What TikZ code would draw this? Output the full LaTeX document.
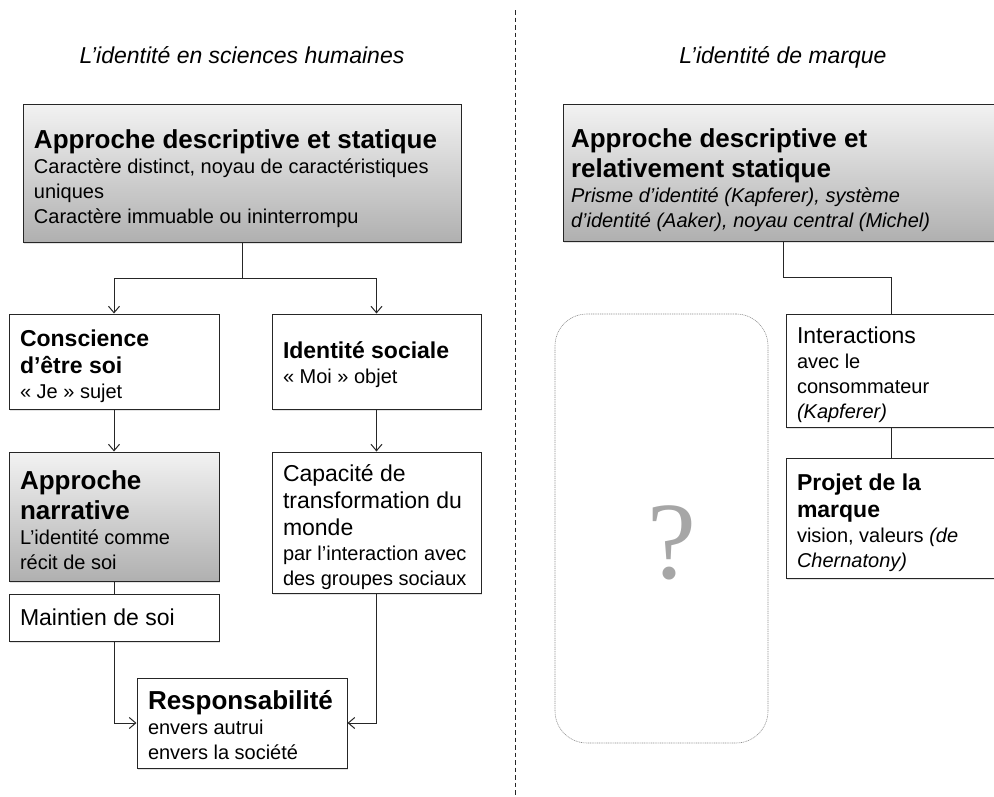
\documentclass[tikz,border=0pt]{standalone}
\usepackage{fontspec}
\setmainfont{Liberation Sans}
\newfontfamily\qfont{Liberation Serif}
\usetikzlibrary{arrows.meta,shadows}
\setlength\parindent{0pt}
\newcommand\FBody{\fontsize{20}{25}\selectfont}
\newcommand\FMid{\fontsize{23}{27}\selectfont}
\newcommand\FBig{\fontsize{26}{30}\selectfont}
\newcommand\TS[1]{\rule{0pt}{\dimexpr0.74em+#1\relax}}
\begin{document}
\begin{tikzpicture}[x=1pt,y=-1pt,
  box/.style={draw=black!85, line width=1pt, fill=white, align=left,
    inner xsep=11pt, inner ysep=1pt,
    execute at begin node={\spaceskip=0pt\xspaceskip=0pt\relax},
    drop shadow={shadow xshift=1.2pt, shadow yshift=-1.5pt, opacity=0.22}},
  graybox/.style={box, top color=black!5, bottom color=black!31},
  conn/.style={draw=black!85, line width=1pt},
  arr/.style={conn, -{Straight Barb[length=6.5pt,width=11pt]}},
  ttl/.style={font=\FMid\itshape, anchor=base},
  qbox/.style={draw=black!45, line width=0.6pt, dash pattern=on 1pt off 0.8pt, rounded corners=32pt},
  divider/.style={draw=black!85, line width=0.9pt, dash pattern=on 4.5pt off 3pt},
]
\useasboundingbox (0,0) rectangle (994,796);
\clip (0,0) rectangle (994,796);

% divider
\coordinate (dtop) at (515,10);
\coordinate (dbot) at (515,796);
\draw[divider] (dtop) -- (dbot);

% titles
\node[ttl] (t1) at (242,63) {L’identité en sciences humaines};
\node[ttl] (t2) at (783,63) {L’identité de marque};

% left column
\node[graybox, minimum width=438, minimum height=138, text width=416] (LA) at (242,173)
  {{\FBig\bfseries\TS{10pt}Approche descriptive et statique\par}{\FBody Caractère distinct, noyau de caractéristiques\par uniques\par Caractère immuable ou ininterrompu\par}};

\node[box, minimum width=210, minimum height=95, text width=188] (C) at (114,361.5)
  {{\FMid\bfseries\TS{9pt}Conscience\par d’être soi\par}{\FBody « Je » sujet\par}};

\node[box, minimum width=209, minimum height=95, text width=187] (I) at (376.5,361.5)
  {{\FMid\bfseries\TS{6pt}Identité sociale\par}{\FBody « Moi » objet\par}};

\node[graybox, minimum width=210, minimum height=129, text width=188] (N) at (114,516.5)
  {{\FBig\bfseries\TS{6pt}Approche\par narrative\par}{\FBody L’identité comme\par récit de soi\par}};

\node[box, minimum width=209, minimum height=141, text width=187] (K) at (376.5,522.5)
  {{\FMid\TS{9pt}Capacité de\par transformation du\par monde\par}{\FBody par l’interaction avec\par des groupes sociaux\par}};

\node[box, minimum width=210, minimum height=47, text width=188] (M) at (114,617.5)
  {{\FMid Maintien de soi\par}};

\node[box, minimum width=210, minimum height=90, text width=188] (R) at (242,723)
  {{\FBig\bfseries\TS{4pt}Responsabilité\par}{\FBody envers autrui\par envers la société\par}};

% right column
\node[graybox, minimum width=440, minimum height=137, text width=424, inner xsep=8pt] (RA) at (783,172.5)
  {{\FBig\bfseries\TS{14pt}Approche descriptive et\par relativement statique\par}{\FBody\itshape Prisme d’identité (Kapferer), système\par d’identité (Aaker), noyau central (Michel)\par}};

\node[box, minimum width=210, minimum height=113, text width=188] (IN) at (891,370.5)
  {{\FMid\TS{8pt}Interactions\par}{\FBody avec le\par consommateur\par\itshape (Kapferer)\par}};

\node[box, minimum width=210, minimum height=120, text width=188] (P) at (891,518)
  {{\FMid\bfseries\TS{10pt}Projet de la\par marque\par}{\FBody vision, valeurs \textit{(de}\par \textit{Chernatony)}\par}};

\node[qbox, minimum width=213, minimum height=429] (Q) at (661.5,528.5) {};
\node[font=\qfont\fontsize{110}{110}\selectfont, text=black!35, anchor=base, inner sep=0pt] (qm) at (672,578) {?};

% connectors left
\draw[arr] (LA.south) -- ++(0,36) -| (C.north);
\draw[arr] (LA.south) -- ++(0,36) -| (I.north);
\draw[arr] (C.south) -- (N.north);
\draw[arr] (I.south) -- (K.north);
\draw[conn] (N.south) -- (M.north);
\draw[arr] (M.south) |- (R.west);
\draw[arr] (K.south) |- (R.east);

% connectors right
\draw[conn] (RA.south) -- ++(0,36) -| (IN.north);
\draw[conn] (IN.south) -- (P.north);
\end{tikzpicture}
\end{document}
